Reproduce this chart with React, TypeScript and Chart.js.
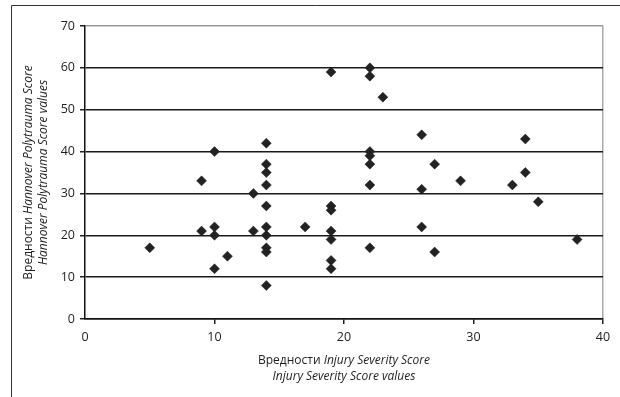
import React, { useEffect, useRef } from "react";
import { Chart, registerables } from "chart.js";

Chart.register(...registerables);

// Injury Severity Score (x) and Hannover Polytrauma Score (y), paired by index
const issValues = [5, 9, 9, 10, 10, 10, 10, 11, 13, 13, 14, 14, 14, 14, 14, 14, 14, 14, 14, 14, 17, 19, 19, 19, 19, 19, 19, 19, 22, 22, 22, 22, 22, 22, 22, 23, 26, 26, 26, 27, 27, 29, 33, 34, 34, 35, 38];
const hptsValues = [17, 33, 21, 40, 22, 20, 12, 15, 30, 21, 42, 37, 35, 32, 27, 22, 20, 17, 16, 8, 22, 59, 27, 26, 21, 19, 14, 12, 60, 58, 40, 39, 37, 32, 17, 53, 44, 31, 22, 37, 16, 33, 32, 43, 35, 28, 19];

const xTitleLine1 = [{ text: "Вредности ", italic: false }, { text: "Injury Severity Score", italic: true }];
const xTitleLine2 = [{ text: "Injury Severity Score values", italic: true }];
const yTitleLine1 = [{ text: "Вредности ", italic: false }, { text: "Hannover Polytrauma Score", italic: true }];
const yTitleLine2 = [{ text: "Hannover Polytrauma Score values", italic: true }];

const FONT = '"Open Sans", "DejaVu Sans", sans-serif';
const TEXT = "#1e1e1e";

type Part = { text: string; italic: boolean };

function drawMixed(ctx: CanvasRenderingContext2D, parts: Part[], cx: number, cy: number, size: number) {
  let total = 0;
  const widths = parts.map((p) => {
    ctx.font = `${p.italic ? "italic " : ""}${size}px ${FONT}`;
    const w = ctx.measureText(p.text).width;
    total += w;
    return w;
  });
  let x = cx - total / 2;
  ctx.textAlign = "left";
  ctx.textBaseline = "middle";
  ctx.fillStyle = TEXT;
  parts.forEach((p, i) => {
    ctx.font = `${p.italic ? "italic " : ""}${size}px ${FONT}`;
    ctx.fillText(p.text, x, cy);
    x += widths[i];
  });
}

const decorPlugin = {
  id: "decor",
  beforeDraw(chart: any) {
    const ctx = chart.ctx as CanvasRenderingContext2D;
    ctx.save();
    ctx.fillStyle = "#fff";
    ctx.fillRect(0, 0, chart.width, chart.height);
    ctx.strokeStyle = "#333";
    ctx.lineWidth = 1;
    ctx.beginPath();
    ctx.moveTo(11.5, chart.height);
    ctx.lineTo(11.5, 5.5);
    ctx.lineTo(chart.width, 5.5);
    ctx.stroke();
    ctx.restore();
  },
  afterDraw(chart: any) {
    const ctx = chart.ctx as CanvasRenderingContext2D;
    const area = chart.chartArea;
    const cx = (area.left + area.right) / 2;
    const cy = (area.top + area.bottom) / 2;
    ctx.save();
    drawMixed(ctx, xTitleLine1, cx, 361, 12);
    drawMixed(ctx, xTitleLine2, cx, 377, 12);
    ctx.translate(0, cy);
    ctx.rotate(-Math.PI / 2);
    drawMixed(ctx, yTitleLine1, 0, 29, 12);
    drawMixed(ctx, yTitleLine2, 0, 44, 12);
    ctx.restore();
  },
};

export default function App() {
  const ref = useRef<HTMLCanvasElement | null>(null);
  useEffect(() => {
    if (!ref.current) return;
    const points = issValues.map((x, i) => ({ x, y: hptsValues[i] }));
    const chart = new Chart(ref.current, {
      type: "scatter",
      data: {
        datasets: [
          {
            data: points,
            pointStyle: "rectRot",
            pointRadius: 5,
            pointHoverRadius: 5,
            backgroundColor: "#222",
            borderColor: "#222",
            borderWidth: 0.5,
          },
        ],
      },
      options: {
        responsive: false,
        animation: false,
        devicePixelRatio: 1,
        layout: { padding: { top: 26, right: 17, left: 0, bottom: 0 } },
        plugins: { legend: { display: false }, tooltip: { enabled: false } },
        scales: {
          x: {
            type: "linear",
            min: 0,
            max: 40,
            afterFit: (s: any) => {
              s.height = 78;
            },
            ticks: { stepSize: 10, padding: 6, color: TEXT, font: { family: FONT, size: 12.5 } },
            grid: {
              color: (c: any) => (c.tick && c.tick.value === 40 ? "#aaa" : "rgba(0,0,0,0)"),
              tickColor: (c: any) => (c.tick && c.tick.value === 0 ? "rgba(0,0,0,0)" : "#222"),
              tickLength: 5,
              lineWidth: 1.5,
            },
            border: { color: "#111", width: 1.5 },
          },
          y: {
            type: "linear",
            min: 0,
            max: 70,
            afterFit: (s: any) => {
              s.width = 85;
            },
            ticks: { stepSize: 10, padding: 5, color: TEXT, font: { family: FONT, size: 12.5 } },
            grid: {
              color: (c: any) => (c.tick && c.tick.value === 70 ? "#999" : "#1a1a1a"),
              tickColor: "#222",
              tickLength: 5,
              lineWidth: 1.5,
            },
            border: { color: "#111", width: 1.5 },
          },
        },
      },
      plugins: [decorPlugin],
    });
    return () => chart.destroy();
  }, []);
  return (
    <canvas
      ref={ref}
      width={620}
      height={397}
      style={{ position: "absolute", left: 0, top: 0, width: 620, height: 397 }}
    />
  );
}
